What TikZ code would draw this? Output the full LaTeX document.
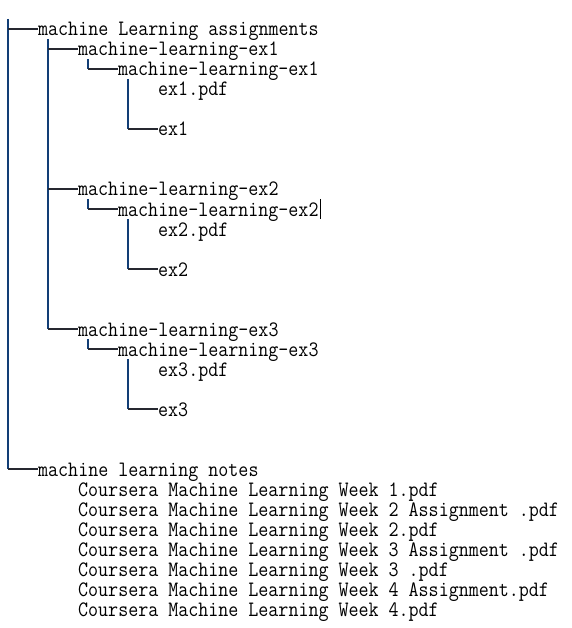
\documentclass[tikz,border=0pt]{standalone}
\usepackage{fontspec}
\setmonofont[FakeStretch=0.884]{Latin Modern Mono}
\usepackage{tikz}
\usetikzlibrary{positioning}

\definecolor{treeblue}{RGB}{18,62,118}
\definecolor{treedark}{RGB}{38,40,48}

\begin{document}
\begin{tikzpicture}[
    x=1pt, y=-1pt,
    entry/.style={
        anchor=west,
        inner sep=0pt,
        text height=17pt,
        text depth=3pt,
        font=\ttfamily\fontsize{22}{22}\selectfont
    },
    vline/.style={
        draw=treeblue,
        line width=1.6pt
    },
    hline/.style={
        draw=treedark,
        line width=1.2pt
    },
    caret/.style={
        draw=black,
        line width=0.8pt
    }
]
\useasboundingbox[fill=white] (0,0) rectangle (571,628);

% folders and files
\node[entry] (root) at (38,29) {machine Learning assignments};

\node[entry] (ex1) at (78,49) {machine-learning-ex1};
\node[entry] (ex1in) at (118,69) {machine-learning-ex1};
\node[entry] (ex1pdf) at (158,89) {ex1.pdf};
\node[entry] (ex1dir) at (158,129) {ex1};

\node[entry] (ex2) at (78,189) {machine-learning-ex2};
\node[entry] (ex2in) at (118,209) {machine-learning-ex2};
\node[entry] (ex2pdf) at (158,229) {ex2.pdf};
\node[entry] (ex2dir) at (158,269) {ex2};

\node[entry] (ex3) at (78,329) {machine-learning-ex3};
\node[entry] (ex3in) at (118,349) {machine-learning-ex3};
\node[entry] (ex3pdf) at (158,369) {ex3.pdf};
\node[entry] (ex3dir) at (158,409) {ex3};

\node[entry] (notes) at (38,469) {machine learning notes};
\node[entry] (wk1) at (78,489) {Coursera Machine Learning Week 1.pdf};
\node[entry] (wk2a) at (78,509) {Coursera Machine Learning Week 2 Assignment .pdf};
\node[entry] (wk2) at (78,529) {Coursera Machine Learning Week 2.pdf};
\node[entry] (wk3a) at (78,549) {Coursera Machine Learning Week 3 Assignment .pdf};
\node[entry] (wk3) at (78,569) {Coursera Machine Learning Week 3 .pdf};
\node[entry] (wk4a) at (78,589) {Coursera Machine Learning Week 4 Assignment.pdf};
\node[entry] (wk4) at (78,609) {Coursera Machine Learning Week 4.pdf};

% trunk
\coordinate (trunk) at (8,19);
\draw[vline] (trunk) -- (trunk |- notes.west);
\draw[hline] (trunk |- root.west) -- (root.west);
\draw[hline] (trunk |- notes.west) -- (notes.west);

% assignments
\coordinate (limb) at (48,39);
\draw[vline] (limb) -- (limb |- ex3.west);
\draw[hline] (limb |- ex1.west) -- (ex1.west);
\draw[hline] (limb |- ex2.west) -- (ex2.west);
\draw[hline] (limb |- ex3.west) -- (ex3.west);

% inner folders
\draw[vline] (88,0 |- ex1in.north) -- (88,0 |- ex1in.west);
\draw[hline] (88,0 |- ex1in.west) -- (ex1in.west);
\draw[vline] (88,0 |- ex2in.north) -- (88,0 |- ex2in.west);
\draw[hline] (88,0 |- ex2in.west) -- (ex2in.west);
\draw[vline] (88,0 |- ex3in.north) -- (88,0 |- ex3in.west);
\draw[hline] (88,0 |- ex3in.west) -- (ex3in.west);

% files
\draw[vline] (128,0 |- ex1pdf.north) -- (128,0 |- ex1dir.west);
\draw[hline] (128,0 |- ex1dir.west) -- (ex1dir.west);
\draw[vline] (128,0 |- ex2pdf.north) -- (128,0 |- ex2dir.west);
\draw[hline] (128,0 |- ex2dir.west) -- (ex2dir.west);
\draw[vline] (128,0 |- ex3pdf.north) -- (128,0 |- ex3dir.west);
\draw[hline] (128,0 |- ex3dir.west) -- (ex3dir.west);

% text cursor
\draw[caret] ([xshift=1.5pt]ex2in.north east) -- ([xshift=1.5pt]ex2in.south east);

\end{tikzpicture}
\end{document}
